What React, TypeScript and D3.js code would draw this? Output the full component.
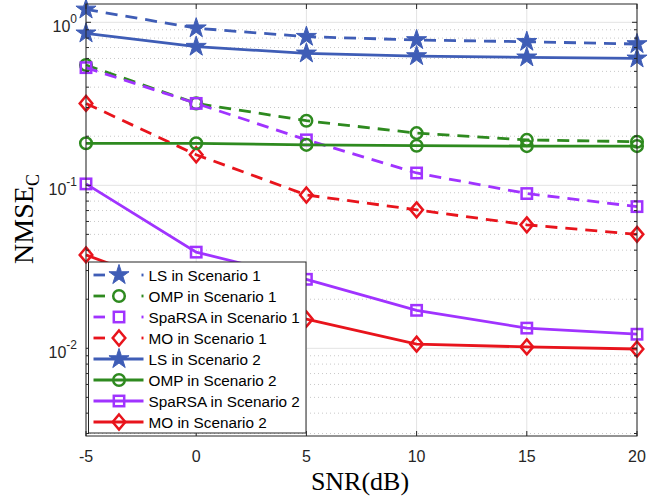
import React from "react";
import * as d3 from "d3";

const snr = [-5, 0, 5, 10, 15, 20];
const xTicks = [-5, 0, 5, 10, 15, 20];
const yDecades = [0.01, 0.1, 1];
const yTickLabels = ["-2", "-1", "0"];

const lsS1 = [1.2, 0.92, 0.816, 0.779, 0.76, 0.736];
const ompS1 = [0.547, 0.318, 0.249, 0.209, 0.19, 0.185];
const sparsaS1 = [0.527, 0.318, 0.19, 0.119, 0.089, 0.074];
const moS1 = [0.318, 0.154, 0.0872, 0.0707, 0.0572, 0.05];
const lsS2 = [0.856, 0.709, 0.645, 0.621, 0.61, 0.601];
const ompS2 = [0.181, 0.181, 0.177, 0.175, 0.174, 0.174];
const sparsaS2 = [0.102, 0.0389, 0.0265, 0.0171, 0.0133, 0.0122];
const moS2 = [0.0374, 0.021, 0.0151, 0.0106, 0.0102, 0.0099];

const seriesNames = [
  "LS in Scenario 1",
  "OMP in Scenario 1",
  "SpaRSA in Scenario 1",
  "MO in Scenario 1",
  "LS in Scenario 2",
  "OMP in Scenario 2",
  "SpaRSA in Scenario 2",
  "MO in Scenario 2",
];

const BLUE = "#3F5DB6";
const GREEN = "#2E8A1F";
const PURPLE = "#A033FF";
const RED = "#E8141C";

type Series = { name: string; values: number[]; color: string; marker: string; dashed: boolean };

const series: Series[] = [
  { name: seriesNames[0], values: lsS1, color: BLUE, marker: "star", dashed: true },
  { name: seriesNames[1], values: ompS1, color: GREEN, marker: "circle", dashed: true },
  { name: seriesNames[2], values: sparsaS1, color: PURPLE, marker: "square", dashed: true },
  { name: seriesNames[3], values: moS1, color: RED, marker: "diamond", dashed: true },
  { name: seriesNames[4], values: lsS2, color: BLUE, marker: "star", dashed: false },
  { name: seriesNames[5], values: ompS2, color: GREEN, marker: "circle", dashed: false },
  { name: seriesNames[6], values: sparsaS2, color: PURPLE, marker: "square", dashed: false },
  { name: seriesNames[7], values: moS2, color: RED, marker: "diamond", dashed: false },
];

const W = 662;
const H = 499;
const L = 86;
const R = 637;
const T = 4;
const B = 436;

const x = d3.scaleLinear().domain([-5, 20]).range([L, R]);
const y = d3.scaleLog().domain([0.002897, 1.295]).range([B, T]);

const starPath = d3.symbol().type(d3.symbolStar).size(125)() as string;

function Marker({ type, cx, cy, color }: { type: string; cx: number; cy: number; color: string }) {
  const sw = 2.5;
  if (type === "star") {
    return <path d={starPath} transform={`translate(${cx},${cy})`} fill={color} stroke={color} strokeWidth={1} />;
  }
  if (type === "circle") {
    return <circle cx={cx} cy={cy} r={5.8} fill="none" stroke={color} strokeWidth={sw} />;
  }
  if (type === "square") {
    return <rect x={cx - 5.2} y={cy - 5.2} width={10.4} height={10.4} fill="none" stroke={color} strokeWidth={sw} />;
  }
  return (
    <path
      d={`M${cx},${cy - 7.5} L${cx + 6.3},${cy} L${cx},${cy + 7.5} L${cx - 6.3},${cy} Z`}
      fill="none"
      stroke={color}
      strokeWidth={sw}
    />
  );
}

export default function App() {
  const minor: number[] = [];
  [0.001, 0.01, 0.1, 1].forEach((d) => {
    for (let k = 2; k <= 9; k++) {
      const v = k * d;
      if (v >= 0.002897 && v <= 1.295) minor.push(v);
    }
  });
  const line = d3
    .line<number>()
    .x((_, i) => x(snr[i]))
    .y((v) => y(v));

  const legX = 88.5;
  const legY = 262;
  const legW = 217.5;
  const legH = 171;
  const rowH = 21;
  const axisColor = "#262626";

  return (
    <svg width={W} height={H} style={{ position: "absolute", left: 0, top: 0, background: "#fff" }}>
      <rect x={0} y={0} width={W} height={H} fill="#fff" />
      {minor.map((v, i) => (
        <line key={"mg" + i} x1={L} x2={R} y1={y(v)} y2={y(v)} stroke="#c8c8c8" strokeWidth={1} strokeDasharray="1,3" />
      ))}
      {yDecades.map((v, i) => (
        <line key={"yg" + i} x1={L} x2={R} y1={y(v)} y2={y(v)} stroke="#e3e3e3" strokeWidth={1} />
      ))}
      {xTicks.map((v, i) => (
        <line key={"xg" + i} x1={x(v)} x2={x(v)} y1={T} y2={B} stroke="#e3e3e3" strokeWidth={1} />
      ))}
      {series.map((s, si) => (
        <g key={"s" + si}>
          <path
            d={line(s.values) as string}
            fill="none"
            stroke={s.color}
            strokeWidth={2.8}
            strokeDasharray={s.dashed ? "12,8" : undefined}
          />
          {s.values.map((v, i) => (
            <Marker key={i} type={s.marker} cx={x(snr[i])} cy={y(v)} color={s.color} />
          ))}
        </g>
      ))}
      <rect x={L} y={T} width={R - L} height={B - T} fill="none" stroke={axisColor} strokeWidth={1} />
      {xTicks.map((v, i) => (
        <g key={"xt" + i}>
          <line x1={x(v)} x2={x(v)} y1={B} y2={B - 5} stroke={axisColor} />
          <line x1={x(v)} x2={x(v)} y1={T} y2={T + 5} stroke={axisColor} />
          <text
            x={x(v)}
            y={B + 26}
            textAnchor="middle"
            fontFamily="Liberation Sans, Arial, sans-serif"
            fontSize={16}
            fill={axisColor}
          >
            {v}
          </text>
        </g>
      ))}
      {yDecades.map((v, i) => (
        <g key={"yt" + i}>
          <line x1={L} x2={L + 5} y1={y(v)} y2={y(v)} stroke={axisColor} />
          <line x1={R} x2={R - 5} y1={y(v)} y2={y(v)} stroke={axisColor} />
          <text
            x={L - 9}
            y={y(v) + 10}
            textAnchor="end"
            fontFamily="Liberation Sans, Arial, sans-serif"
            fontSize={16}
            fill={axisColor}
          >
            10
            <tspan dy={-9} fontSize={12}>
              {yTickLabels[i]}
            </tspan>
          </text>
        </g>
      ))}
      {minor.map((v, i) => (
        <g key={"mt" + i}>
          <line x1={L} x2={L + 3} y1={y(v)} y2={y(v)} stroke={axisColor} />
          <line x1={R} x2={R - 3} y1={y(v)} y2={y(v)} stroke={axisColor} />
        </g>
      ))}
      <text
        x={360}
        y={490}
        textAnchor="middle"
        fontFamily="Liberation Serif, Times New Roman, serif"
        fontSize={26}
        fill="#000"
      >
        SNR(dB)
      </text>
      <text
        transform="translate(33,219) rotate(-90)"
        textAnchor="middle"
        fontFamily="Liberation Serif, Times New Roman, serif"
        fontSize={28}
        fill="#000"
      >
        NMSE
        <tspan fontSize={18} dy={6}>
          C
        </tspan>
      </text>
      <rect x={legX} y={legY} width={legW} height={legH} fill="#fff" stroke={axisColor} strokeWidth={1} />
      {series.map((s, i) => {
        const cy = legY + 13 + i * rowH;
        return (
          <g key={"lg" + i}>
            {s.dashed ? (
              <>
                <line x1={93.5} x2={105} y1={cy} y2={cy} stroke={s.color} strokeWidth={2.8} />
                <line x1={141.5} x2={143.5} y1={cy} y2={cy} stroke={s.color} strokeWidth={2.8} />
              </>
            ) : (
              <line x1={93.5} x2={143.5} y1={cy} y2={cy} stroke={s.color} strokeWidth={2.8} />
            )}
            <Marker type={s.marker} cx={119} cy={cy} color={s.color} />
            <text
              x={148.5}
              y={cy + 5.5}
              fontFamily="Liberation Sans, Arial, sans-serif"
              fontSize={15.3}
              fill="#000"
            >
              {s.name}
            </text>
          </g>
        );
      })}
    </svg>
  );
}
